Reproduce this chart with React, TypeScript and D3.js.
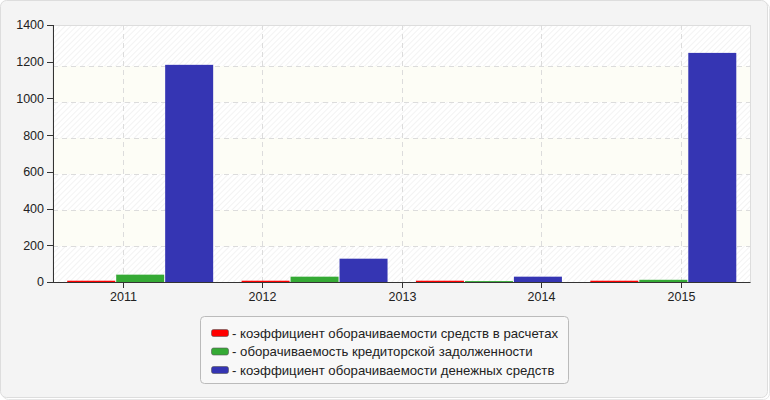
import * as d3 from 'd3';

// categories on the axis and bar data (bars drawn for four groups)
const years = ['2011', '2012', '2013', '2014', '2015'];
const seriesNames = [
  'коэффициент оборачиваемости средств в расчетах',
  'оборачиваемость кредиторской задолженности',
  'коэффициент оборачиваемости денежных средств',
];
const receivablesTurnover = [7, 7, 7, 7];
const payablesTurnover = [40, 29, 5, 12];
const cashTurnover = [1183, 127, 29, 1248];
const yTicks = [0, 200, 400, 600, 800, 1000, 1200, 1400];

const colors = ['#ff0000', '#35aa35', '#3535b3'];

const W = 770;
const H = 400;
const left = 53;
const right = 750.5;
const top = 25;
const bottom = 282;

export default function App() {
  const series = [receivablesTurnover, payablesTurnover, cashTurnover];

  const y = d3.scaleLinear().domain([0, 1400]).range([bottom, top]);
  // the grid bands sit a little lower than the tick labels in the original
  const yGrid = d3.scaleLinear().domain([0, 1400]).range([bottom, 30]);

  const x = d3.scaleBand<string>().domain(years).range([left, right]).padding(0);
  const groups = d3
    .scaleBand<number>()
    .domain(d3.range(cashTurnover.length))
    .range([left, right])
    .paddingInner(0.163)
    .paddingOuter(0.0815);
  const sub = d3
    .scaleBand<number>()
    .domain(d3.range(series.length))
    .range([0, groups.bandwidth()])
    .paddingInner(0.02);

  const font = '"Liberation Sans", Arial, sans-serif';

  return (
    <svg
      width={W}
      height={H}
      style={{ position: 'absolute', left: 0, top: 0 }}
      fontFamily={font}
    >
      <defs>
        <pattern id="hatch" width="4" height="4" patternUnits="userSpaceOnUse" patternTransform="rotate(45)">
          <rect width="4" height="4" fill="#ffffff" />
          <line x1="0" y1="0" x2="0" y2="4" stroke="#ececec" strokeWidth="1.2" />
        </pattern>
      </defs>

      {/* outer frame */}
      <rect x={2.5} y={2.5} width={W - 3} height={H - 3} rx={6} fill="none" stroke="#e6e6e6" />
      <rect x={0.5} y={0.5} width={W - 3} height={H - 3} rx={6} fill="#f4f4f4" stroke="#dddddd" />

      {/* plot background */}
      <rect x={left} y={top} width={right - left} height={bottom - top} fill="url(#hatch)" />
      {yTicks.slice(0, -1).map((t, i) =>
        i % 2 === 1 ? (
          <rect
            key={'band' + t}
            x={left}
            y={yGrid(yTicks[i + 1])}
            width={right - left}
            height={yGrid(t) - yGrid(yTicks[i + 1])}
            fill="#fdfdf6"
          />
        ) : null
      )}
      <rect x={left} y={top + 0.5} width={right - left} height={bottom - top} fill="none" stroke="#dddddd" />

      {/* grid */}
      {yTicks.slice(1, -1).map((t) => (
        <line
          key={'gy' + t}
          x1={left}
          x2={right}
          y1={Math.round(yGrid(t)) + 0.5}
          y2={Math.round(yGrid(t)) + 0.5}
          stroke="#dcdcdc"
          strokeDasharray="5,4"
        />
      ))}
      {years.map((yr) => {
        const cx = Math.round(x(yr)! + x.bandwidth() / 2) + 0.5;
        return (
          <line key={'gx' + yr} x1={cx} x2={cx} y1={top} y2={bottom} stroke="#dcdcdc" strokeDasharray="5,4" />
        );
      })}

      {/* bars */}
      {series.map((vals, s) =>
        vals.map((v, i) => (
          <rect
            key={`b${s}-${i}`}
            x={groups(i)! + sub(s)!}
            y={y(v)}
            width={sub.bandwidth()}
            height={bottom - y(v)}
            fill={colors[s]}
          />
        ))
      )}

      {/* axes */}
      <line x1={left + 0.5} x2={left + 0.5} y1={top} y2={bottom} stroke="#333" />
      <line x1={left} x2={right} y1={bottom + 0.5} y2={bottom + 0.5} stroke="#333" />
      {yTicks.map((t) => (
        <g key={'yt' + t}>
          <line x1={left - 6} x2={left} y1={Math.round(y(t)) + 0.5} y2={Math.round(y(t)) + 0.5} stroke="#333" />
          <text x={left - 9} y={y(t)} dy="0.35em" textAnchor="end" fontSize={12.5} fill="#222">
            {t}
          </text>
        </g>
      ))}
      {years.map((yr) => {
        const cx = Math.round(x(yr)! + x.bandwidth() / 2) + 0.5;
        return (
          <g key={'xt' + yr}>
            <line x1={cx} x2={cx} y1={bottom} y2={bottom + 6} stroke="#333" />
            <text x={cx} y={297} dy="0.35em" textAnchor="middle" fontSize={12.5} fill="#222">
              {yr}
            </text>
          </g>
        );
      })}

      {/* legend */}
      <rect x={200.5} y={316.5} width={368} height={67} rx={4} fill="#f8f8f8" stroke="#bbbbbb" />
      {seriesNames.map((name, i) => {
        const cy = 333 + i * 18.5;
        return (
          <g key={'lg' + i}>
            <rect x={211.5} y={cy - 3.5} width={17} height={7} rx={2} fill={colors[i]} stroke="#555" strokeWidth={0.6} />
            <text x={232} y={cy} dy="0.35em" fontSize={13.2} fill="#222">
              {'- ' + name}
            </text>
          </g>
        );
      })}
    </svg>
  );
}
